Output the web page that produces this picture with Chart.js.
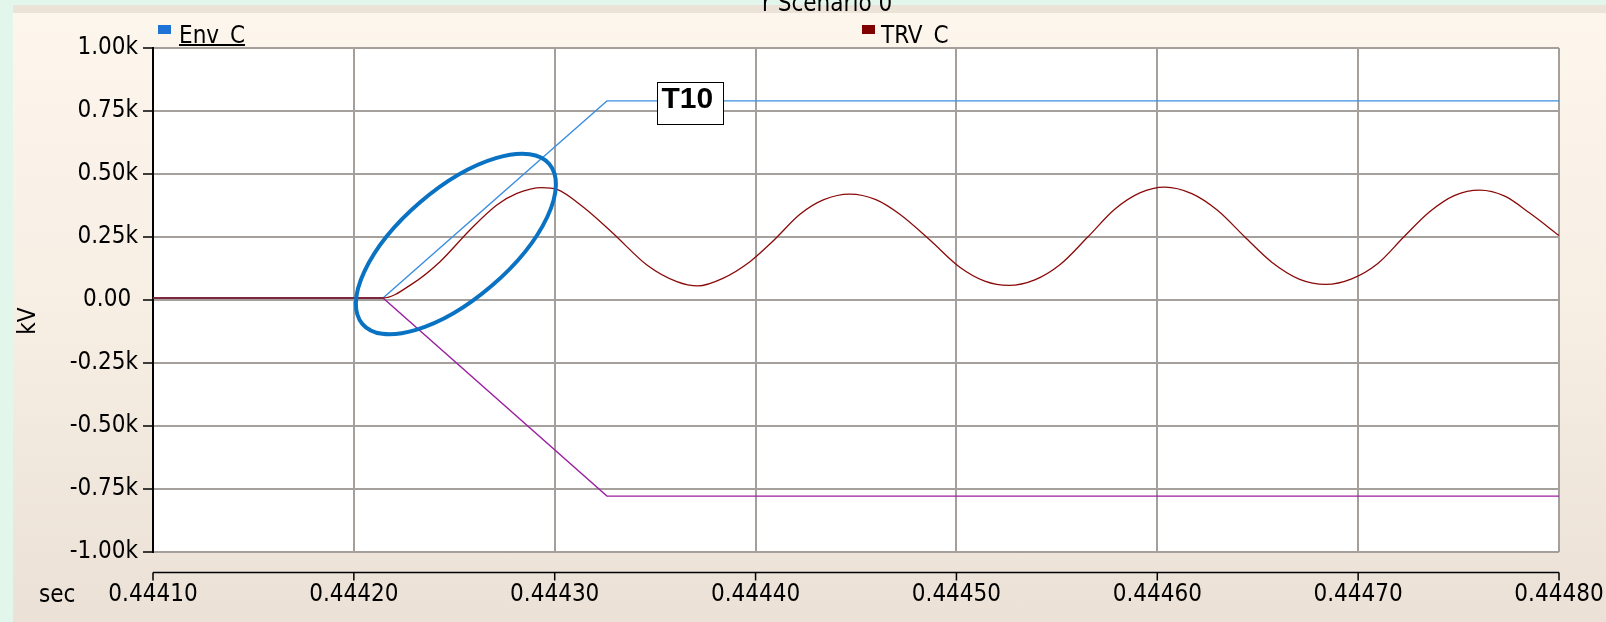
<!DOCTYPE html>
<html><head><meta charset="utf-8">
<script src="https://cdn.jsdelivr.net/npm/chart.js@4.4.1/dist/chart.umd.min.js"></script>
<style>
html,body{margin:0;padding:0;width:1606px;height:622px;overflow:hidden;background:#e3f6ec;}
#panel{position:absolute;left:13px;top:5px;width:1593px;height:617px;background:linear-gradient(#ebe2d8 0px,#ebe2d8 8px,#fdf6ed 8px,#f7eee4 300px,#ebe1d6 617px);}
#wrap{position:absolute;left:0;top:0;width:1606px;height:622px;}
.t{position:absolute;font-family:'DejaVu Sans Condensed','DejaVu Sans',sans-serif;font-size:24px;line-height:24px;color:#000;white-space:nowrap;}
#title{position:absolute;left:0;top:0;width:1606px;height:16px;overflow:hidden;}
#legend{position:absolute;left:0;top:14px;width:1606px;height:33px;overflow:hidden;}
.sw{position:absolute;width:13px;height:9px;}
#t10{position:absolute;left:657px;top:82px;width:67px;height:43px;box-sizing:border-box;border:1.5px solid #000;background:#fff;}
#t10 span{position:absolute;left:3.5px;top:-0.5px;font-family:'Liberation Sans',Arial,sans-serif;font-weight:bold;font-size:30px;line-height:30px;color:#000;}
</style></head><body>
<div id="panel"></div>
<div id="wrap"><canvas id="c" width="1606" height="622"></canvas></div>
<div id="title"><span class="t" id="titleText" style="left:762px;top:-9.5px;"></span></div>
<div id="legend">
  <div class="sw" id="sw0" style="left:158px;top:11px;"></div>
  <span class="t" id="lg0" style="left:179px;top:8.7px;text-decoration:underline;text-decoration-thickness:1.5px;"></span>
  <div class="sw" id="sw1" style="left:862px;top:11px;"></div>
  <span class="t" id="lg1" style="left:881px;top:8.7px;"></span>
</div>
<div id="t10"><span id="t10text"></span></div>
<span class="t" id="xTitle" style="left:39px;top:581.7px;"></span>
<div class="t" id="yTitle" style="left:0px;top:309px;width:54px;height:24px;text-align:center;transform:rotate(-90deg);transform-origin:27px 12px;"></div>
<script>
// ---- data ----
const chartTitle = 'r Scenario 0';
const seriesNames = ['Env_C', 'TRV_C'];
const seriesColors = ['#1f72d6', '#800000'];
const xAxisTitle = 'sec';
const yAxisTitle = 'kV';
const annotationLabel = 'T10';

const xTickValues = [0.44410, 0.44420, 0.44430, 0.44440, 0.44450, 0.44460, 0.44470, 0.44480];
const yTickValues = [-1000, -750, -500, -250, 0, 250, 500, 750, 1000];

const trvTime = [0.44410, 0.4442145, 0.4442294, 0.4442429, 0.4442578, 0.4442712, 0.4442812, 0.4442936,
  0.4443011, 0.4443140, 0.4443290, 0.4443459, 0.4443608, 0.4443713, 0.4443837, 0.4443972,
  0.4444091, 0.4444221, 0.4444340, 0.4444469, 0.4444599, 0.4444718, 0.4444868, 0.4445017,
  0.4445141, 0.4445261, 0.4445390, 0.4445515, 0.4445654, 0.4445788, 0.4445913, 0.4446037,
  0.4446172, 0.4446301, 0.4446436, 0.4446570, 0.4446709, 0.4446839, 0.4446968, 0.4447098,
  0.4447227, 0.4447356, 0.4447481, 0.4447605, 0.4447730, 0.4447854, 0.4448000];
const trvValue = [8, 8, 66, 152, 278, 377, 423, 446,
  439, 370, 265, 139, 73, 56, 86, 152,
  237, 340, 398, 420, 398, 340, 238, 130,
  75, 58, 80, 140, 250, 360, 425, 448,
  422, 355, 250, 150, 82, 62, 84, 145,
  250, 350, 415, 436, 412, 345, 256];

const envUpperTime = [0.44410, 0.4442145, 0.4443260, 0.44480];
const envUpperValue = [8, 8, 790, 790];
const envLowerTime = [0.44410, 0.4442145, 0.4443260, 0.44480];
const envLowerValue = [8, 8, -778, -778];

const ellipseCenterTime = 0.4442508;
const ellipseCenterValue = 222;

// ---- build ----
const FONT = "'DejaVu Sans Condensed','DejaVu Sans',sans-serif";
const zip = (ts, vs) => ts.map((t, i) => ({x: t, y: vs[i]}));

document.getElementById('titleText').textContent = chartTitle;
document.getElementById('lg0').textContent = seriesNames[0];
document.getElementById('lg1').textContent = seriesNames[1];
document.getElementById('sw0').style.background = seriesColors[0];
document.getElementById('sw1').style.background = seriesColors[1];
document.getElementById('xTitle').textContent = xAxisTitle;
document.getElementById('yTitle').textContent = yAxisTitle;
document.getElementById('t10text').textContent = annotationLabel;

const plotBg = {
  id: 'plotBg',
  beforeDraw(chart) {
    const {ctx, chartArea: a} = chart;
    ctx.save(); ctx.fillStyle = '#fff';
    ctx.fillRect(a.left, a.top, a.right - a.left, a.bottom - a.top);
    ctx.restore();
  }
};
const xAxisLine = {
  id: 'xAxisLine',
  afterDraw(chart) {
    const {ctx, chartArea, scales: {x}} = chart;
    const y0 = chartArea.bottom + 20.5;
    ctx.save(); ctx.strokeStyle = '#000'; ctx.lineWidth = 1.5; ctx.beginPath();
    ctx.moveTo(x.getPixelForValue(xTickValues[0]), y0);
    ctx.lineTo(x.getPixelForValue(xTickValues[xTickValues.length - 1]), y0);
    x.ticks.forEach(t => { const px = x.getPixelForValue(t.value); ctx.moveTo(px, y0); ctx.lineTo(px, y0 + 8); });
    ctx.stroke(); ctx.restore();
  }
};
const ellipseMark = {
  id: 'ellipseMark',
  afterDatasetsDraw(chart) {
    const {ctx, scales: {x, y}} = chart;
    ctx.save(); ctx.strokeStyle = '#0a72c2'; ctx.lineWidth = 4; ctx.beginPath();
    ctx.ellipse(x.getPixelForValue(ellipseCenterTime), y.getPixelForValue(ellipseCenterValue), 123, 55, -40.6 * Math.PI / 180, 0, Math.PI * 2);
    ctx.stroke(); ctx.restore();
  }
};

new Chart(document.getElementById('c'), {
  type: 'line',
  data: {
    datasets: [
      {label: seriesNames[1], data: zip(trvTime, trvValue), borderColor: '#8a0a0a', borderWidth: 1.3, pointRadius: 0, cubicInterpolationMode: 'monotone'},
      {label: seriesNames[0], data: zip(envUpperTime, envUpperValue), borderColor: '#3b8ee0', borderWidth: 1.3, pointRadius: 0, tension: 0},
      {label: 'Env_C lower', data: zip(envLowerTime, envLowerValue), borderColor: '#9a1fa0', borderWidth: 1.3, pointRadius: 0, tension: 0}
    ]
  },
  options: {
    responsive: false, animation: false, events: [],
    layout: {padding: {left: 0, top: 48, right: 47, bottom: 0}},
    plugins: {legend: {display: false}, title: {display: false}, tooltip: {enabled: false}},
    scales: {
      x: {
        type: 'linear', min: xTickValues[0], max: xTickValues[xTickValues.length - 1],
        afterBuildTicks: s => { s.ticks = xTickValues.map(v => ({value: v})); },
        afterFit: s => { s.height = 70; s.paddingLeft = 0; s.paddingRight = 0; },
        grid: {color: '#a5a09b', lineWidth: 2, drawTicks: false},
        border: {display: false},
        ticks: {font: {family: FONT, size: 24}, color: '#000', padding: 28, maxRotation: 0, autoSkip: false,
          callback: v => Number(v).toFixed(5)}
      },
      y: {
        type: 'linear', min: yTickValues[0], max: yTickValues[yTickValues.length - 1],
        afterBuildTicks: s => { s.ticks = yTickValues.map(v => ({value: v})); },
        afterFit: s => { s.width = 153; s.paddingTop = 0; s.paddingBottom = 0; },
        grid: {color: '#a5a09b', lineWidth: 2, tickColor: '#000', tickLength: 10, tickWidth: 1.5},
        border: {color: '#000', width: 2},
        ticks: {font: {family: FONT, size: 24}, color: '#000', padding: 5,
          callback: v => v === 0 ? '0.00 ' : (v / 1000).toFixed(2) + 'k'}
      }
    }
  },
  plugins: [plotBg, xAxisLine, ellipseMark]
});
</script>
</body></html>
